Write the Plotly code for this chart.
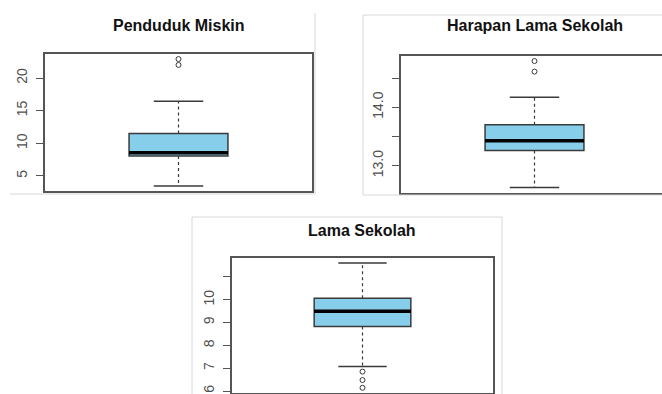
import plotly.graph_objects as go

W, H = 662, 394

# Summary statistics for each variable (whisker low, Q1, median, Q3, whisker high)
titles = ["Penduduk Miskin", "Harapan Lama Sekolah", "Lama Sekolah"]
lower_whisker = [3.46, 12.63, 7.07]
q1_values = [8.05, 13.26, 8.83]
medians = [8.55, 13.43, 9.49]
q3_values = [11.48, 13.70, 10.06]
upper_whisker = [16.45, 14.17, 11.61]
outliers = [[22.0, 22.9], [14.61, 14.79], [6.85, 6.48, 6.14]]

# Axis ticks
tick_values = [[5, 10, 15, 20], [13.0, 13.5, 14.0, 14.5], [6, 7, 8, 9, 10, 11]]
tick_labels = [["5", "10", "15", "20"], ["13.0", "", "14.0", ""], ["6", "7", "8", "9", "10", ""]]

# Plot-area rectangles in pixels: left, right, top, bottom
panels = [(45, 312, 54, 191), (401, 662, 56, 192.5), (232, 493, 258, 392.8)]
full_width_px = [267, 267, 261]

BOX_FILL = "#87CEEB"
EDGE = "#3a3a3a"
FRAME = "#555555"
TXT = "#505050"
FONT = "Liberation Sans, Arial, sans-serif"

fig = go.Figure()
layout = dict(
    width=W, height=H, margin=dict(l=0, r=0, t=0, b=0),
    paper_bgcolor="white", plot_bgcolor="white", showlegend=False,
)

for i in range(3):
    n = "" if i == 0 else str(i + 1)
    xa, ya = "x" + n, "y" + n
    left, right, top, bottom = panels[i]

    # R-style range: data range padded by 4% on each side
    lo = min([lower_whisker[i]] + outliers[i])
    hi = max([upper_whisker[i]] + outliers[i])
    pad = 0.04 * (hi - lo)
    yr = [lo - pad, hi + pad]
    x0 = 0.46
    x1 = x0 + 1.08 * (right - left) / full_width_px[i]

    fig.add_trace(go.Box(
        x=[1], q1=[q1_values[i]], median=[medians[i]], q3=[q3_values[i]],
        lowerfence=[q1_values[i]], upperfence=[q3_values[i]],
        width=0.4, fillcolor=BOX_FILL, line=dict(color=EDGE, width=1.5),
        boxpoints=False, whiskerwidth=0, xaxis=xa, yaxis=ya, hoverinfo="skip",
    ))
    # Median bar
    fig.add_trace(go.Scatter(
        x=[0.8, 1.2], y=[medians[i], medians[i]], mode="lines",
        line=dict(color="black", width=3.5), xaxis=xa, yaxis=ya,
    ))
    # Dashed whiskers
    for a, b in [(q3_values[i], upper_whisker[i]), (q1_values[i], lower_whisker[i])]:
        fig.add_trace(go.Scatter(
            x=[1, 1], y=[a, b], mode="lines",
            line=dict(color=EDGE, width=1.2, dash="3px,3px"), xaxis=xa, yaxis=ya,
        ))
    # Staples
    for v in (upper_whisker[i], lower_whisker[i]):
        fig.add_trace(go.Scatter(
            x=[0.9, 1.1], y=[v, v], mode="lines",
            line=dict(color=EDGE, width=1.5), xaxis=xa, yaxis=ya,
        ))
    # Outlying points
    fig.add_trace(go.Scatter(
        x=[1] * len(outliers[i]), y=outliers[i], mode="markers",
        marker=dict(symbol="circle-open", size=5, color=EDGE, line=dict(width=1)),
        xaxis=xa, yaxis=ya,
    ))

    layout["xaxis" + n] = dict(
        domain=[left / W, right / W], range=[x0, x1], anchor=ya,
        showticklabels=False, ticks="", showgrid=False, zeroline=False,
        showline=True, mirror=True, linecolor=FRAME, linewidth=1.5,
    )
    layout["yaxis" + n] = dict(
        domain=[1 - bottom / H, 1 - top / H], range=yr, anchor=xa,
        tickvals=tick_values[i], ticktext=tick_labels[i], tickangle=-90,
        ticks="outside", ticklen=7, tickwidth=1.2, tickcolor=FRAME,
        ticklabelstandoff=4,
        tickfont=dict(family=FONT, size=14, color=TXT),
        showgrid=False, zeroline=False,
        showline=True, mirror=(i != 1), linecolor=FRAME, linewidth=1.5,
    )

# Titles
title_pos = [(179, 25), (535, 25), (362, 230)]
annotations = []
for t, (cx, cy) in zip(titles, title_pos):
    annotations.append(dict(
        text="<b>%s</b>" % t, x=cx / W, y=1 - cy / H, xref="paper", yref="paper",
        showarrow=False, xanchor="center", yanchor="middle",
        font=dict(family=FONT, size=16, color="#111111"),
    ))
layout["annotations"] = annotations

# Light frames around each panel
edge_lines = [
    (315, 13, 315, 194), (10, 194, 315, 194),
    (363, 15, 363, 195), (363, 15, 662, 15), (363, 195, 662, 195),
    (192, 217, 502, 217), (192, 217, 192, 394), (502, 217, 502, 394),
]
layout["shapes"] = [
    dict(type="line", xref="paper", yref="paper",
         x0=a / W, y0=1 - b / H, x1=c / W, y1=1 - d / H,
         line=dict(color="#d8d8d8", width=1))
    for a, b, c, d in edge_lines
]

fig.update_layout(**layout)
fig.write_html("out.html")
